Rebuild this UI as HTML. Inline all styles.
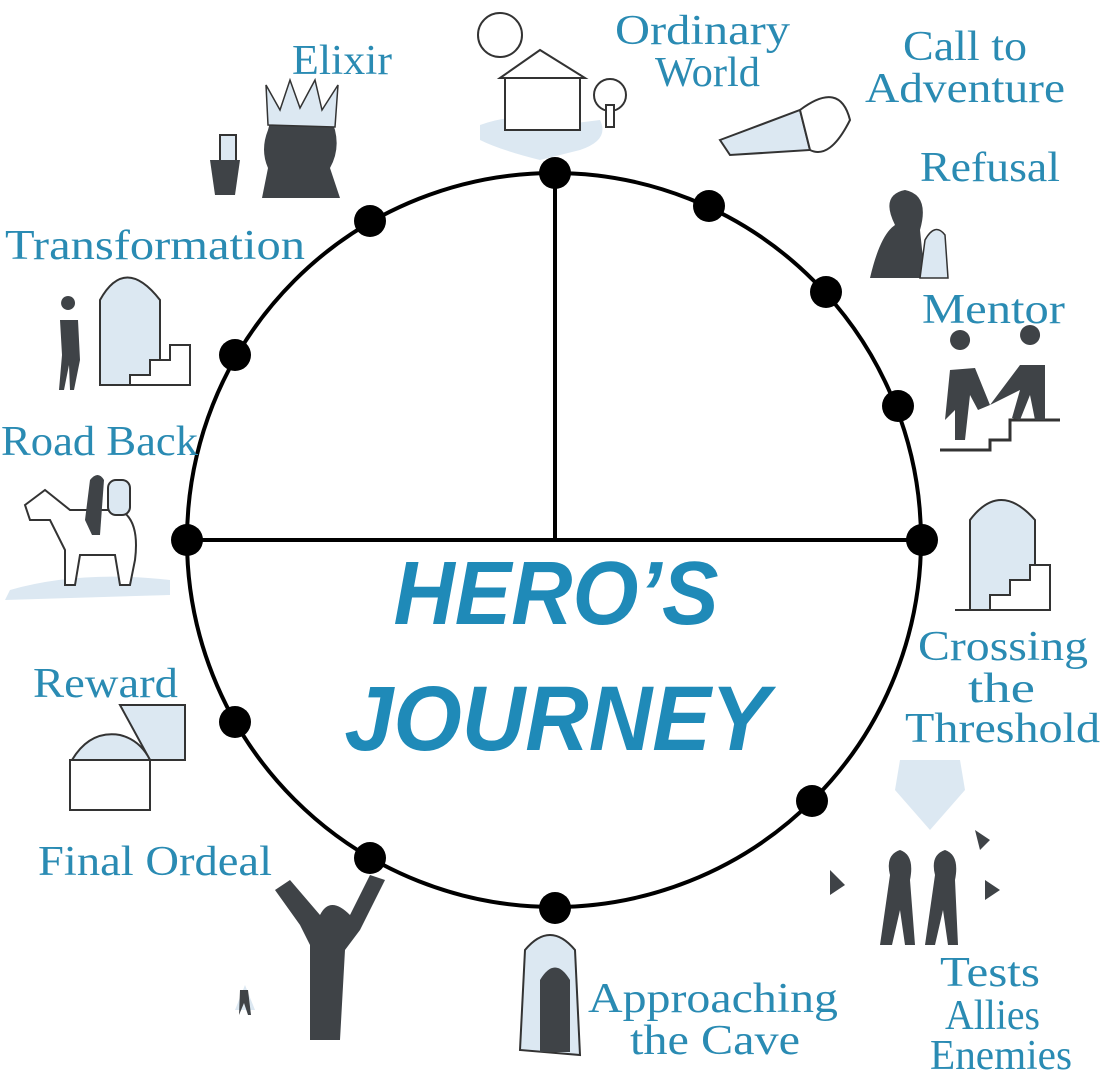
<!DOCTYPE html>
<html><head><style>
html,body{margin:0;padding:0;background:#fff;}
svg{display:block;}
.l{font-family:"Liberation Serif",serif;font-size:42px;fill:#2a8bb3;text-anchor:middle;}
.t{font-family:"Liberation Sans",sans-serif;font-weight:bold;font-style:italic;fill:#1f8ab8;text-anchor:middle;}
.d{fill:#3f4347;}
.lb{fill:#dce8f2;}
</style></head><body>
<svg width="1113" height="1080" viewBox="0 0 1113 1080">
<g>
 <path class="lb" d="M480 125 Q520 110 560 125 L600 120 Q610 140 580 150 L540 160 Q500 150 480 140Z"/>
 <rect x="505" y="75" width="75" height="55" fill="#fff" stroke="#333" stroke-width="2"/>
 <path d="M500 78 L540 50 L585 78Z" fill="#fff" stroke="#333" stroke-width="2"/>
 <circle cx="500" cy="35" r="22" fill="#fff" stroke="#333" stroke-width="2"/>
 <circle cx="610" cy="95" r="16" fill="#fff" stroke="#333" stroke-width="2"/>
 <rect x="606" y="105" width="8" height="22" fill="#fff" stroke="#333" stroke-width="2"/>
 <path d="M720 140 L800 110 L810 150 L730 155Z" class="lb" stroke="#333" stroke-width="2"/>
 <path d="M800 110 Q840 80 850 120 Q830 160 810 150Z" fill="#fff" stroke="#333" stroke-width="2"/>
 <path class="d" d="M870 278 Q880 235 895 225 Q880 195 905 190 Q930 195 920 230 L925 278Z"/>
 <path class="lb" d="M920 278 L925 240 Q935 222 945 235 L948 278Z" stroke="#333" stroke-width="1.5"/>
 <path d="M940 450 L990 450 L990 440 L1010 440 L1010 420 L1060 420" fill="none" stroke="#333" stroke-width="3"/>
 <path class="d" d="M960 350 a10 10 0 1 1 0.1 0Z M950 370 L975 368 L990 405 L978 410 L970 395 L965 440 L955 440 L955 410 L945 420Z"/>
 <path class="d" d="M1030 345 a10 10 0 1 1 0.1 0Z M1020 365 L1045 365 L1045 420 L1035 420 L1030 395 L1020 420 L1012 418 L1020 390 L990 405Z"/>
 <path d="M970 610 L970 520 Q1000 480 1035 520 L1035 610Z" class="lb" stroke="#333" stroke-width="2"/>
 <path d="M955 610 L1050 610 L1050 565 L1030 565 L1030 580 L1010 580 L1010 595 L990 595 L990 610" fill="#fff" stroke="#333" stroke-width="2"/>
 <path class="lb" d="M900 760 L960 760 L965 790 L930 830 L895 790Z"/>
 <path class="d" d="M880 945 L890 875 Q885 855 900 850 Q915 855 910 880 L915 945 L905 945 L900 910 L892 945Z"/>
 <path class="d" d="M925 945 L935 875 Q930 855 945 850 Q960 855 955 880 L958 945 L948 945 L943 910 L935 945Z"/>
 <path class="d" d="M830 870 l15 15 l-15 10z M975 830 l15 10 l-10 10z M985 880 l15 10 l-15 10z"/>
 <path d="M520 1050 L525 950 Q550 920 575 950 L580 1055Z" class="lb" stroke="#333" stroke-width="2"/>
 <path class="d" d="M540 1052 L540 980 Q555 955 570 980 L570 1052Z"/>
 <path class="d" d="M275 890 L300 925 L310 945 L310 1040 L340 1040 L345 950 L360 930 L385 880 L370 875 L350 915 Q330 895 320 915 L290 880Z"/>
 <path class="lb" d="M235 1010 L245 985 L255 1010Z"/>
 <path class="d" d="M240 990 l8 0 l3 25 l-3 0 l-4 -12 l-5 12z"/>
 <path d="M70 760 L150 760 L150 810 L70 810Z" fill="#fff" stroke="#333" stroke-width="2"/>
 <path d="M120 705 L185 705 L185 760 L150 760Z" class="lb" stroke="#333" stroke-width="2"/>
 <path d="M72 760 Q90 730 120 735 Q140 740 150 760Z" class="lb" stroke="#333" stroke-width="2"/>
 <path class="lb" d="M10 590 Q80 570 170 580 L170 595 L5 600Z"/>
 <path d="M25 505 L45 490 L70 510 L120 510 Q140 520 135 560 L130 585 L120 585 L115 555 L80 555 L75 585 L65 585 L65 550 L50 520 L30 520Z" fill="#fff" stroke="#333" stroke-width="2"/>
 <path class="d" d="M85 520 L90 480 Q98 470 104 480 L100 535 L92 535Z"/>
 <rect x="108" y="480" width="22" height="35" rx="8" class="lb" stroke="#333" stroke-width="2"/>
 <path d="M100 385 L100 300 Q125 255 160 300 L160 385Z" class="lb" stroke="#333" stroke-width="2"/>
 <path d="M100 385 L190 385 L190 345 L170 345 L170 360 L150 360 L150 375 L130 375 L130 385" fill="#fff" stroke="#333" stroke-width="2"/>
 <path class="d" d="M68 310 a7 7 0 1 1 0.1 0Z M60 320 L78 320 L80 360 L74 390 L70 390 L69 365 L64 390 L59 390 L62 355Z"/>
 <path class="d" d="M262 198 L268 168 Q260 150 268 130 L272 115 Q300 100 330 115 L335 130 Q340 150 330 168 L340 198Z"/>
 <path d="M268 125 L266 85 L280 110 L290 80 L300 108 L315 80 L322 110 L338 85 L335 127Z" fill="#dce8f2" stroke="#333" stroke-width="1.5"/>
 <rect x="220" y="135" width="16" height="30" class="lb" stroke="#333" stroke-width="2"/>
 <path class="d" d="M210 160 L240 160 L235 195 L215 195Z"/>
</g>
<circle cx="554" cy="540" r="367" fill="none" stroke="#000" stroke-width="4"/>
<line x1="187" y1="540" x2="922" y2="540" stroke="#000" stroke-width="4"/>
<line x1="555" y1="173" x2="555" y2="540" stroke="#000" stroke-width="4"/>
<g fill="#000">
<circle cx="555" cy="173" r="16"/><circle cx="709" cy="206" r="16"/><circle cx="826" cy="292" r="16"/>
<circle cx="898" cy="406" r="16"/><circle cx="922" cy="540" r="16"/><circle cx="812" cy="801" r="16"/>
<circle cx="555" cy="908" r="16"/><circle cx="370" cy="858" r="16"/><circle cx="235" cy="722" r="16"/>
<circle cx="187" cy="540" r="16"/><circle cx="235" cy="355" r="16"/><circle cx="370" cy="221" r="16"/>
</g>
<g class="l" style="font-family:'Liberation Serif',serif;font-size:42px;fill:#2a8bb3" text-anchor="start" >
<text x="615" y="44" textLength="175" lengthAdjust="spacingAndGlyphs" style="text-anchor:start">Ordinary</text>
<text x="655" y="86" textLength="105" lengthAdjust="spacingAndGlyphs" style="text-anchor:start">World</text>
<text x="903" y="60" textLength="124" lengthAdjust="spacingAndGlyphs" style="text-anchor:start">Call to</text>
<text x="865" y="102" textLength="200" lengthAdjust="spacingAndGlyphs" style="text-anchor:start">Adventure</text>
<text x="920" y="181" textLength="140" lengthAdjust="spacingAndGlyphs" style="text-anchor:start">Refusal</text>
<text x="922" y="323" textLength="143" lengthAdjust="spacingAndGlyphs" style="text-anchor:start">Mentor</text>
<text x="918" y="660" textLength="170" lengthAdjust="spacingAndGlyphs" style="text-anchor:start">Crossing</text>
<text x="968" y="702" textLength="67" lengthAdjust="spacingAndGlyphs" style="text-anchor:start">the</text>
<text x="905" y="742" textLength="195" lengthAdjust="spacingAndGlyphs" style="text-anchor:start">Threshold</text>
<text x="940" y="986" textLength="100" lengthAdjust="spacingAndGlyphs" style="text-anchor:start">Tests</text>
<text x="945" y="1029" textLength="95" lengthAdjust="spacingAndGlyphs" style="text-anchor:start">Allies</text>
<text x="930" y="1069" textLength="142" lengthAdjust="spacingAndGlyphs" style="text-anchor:start">Enemies</text>
<text x="588" y="1012" textLength="250" lengthAdjust="spacingAndGlyphs" style="text-anchor:start">Approaching</text>
<text x="630" y="1054" textLength="170" lengthAdjust="spacingAndGlyphs" style="text-anchor:start">the Cave</text>
<text x="38" y="875" textLength="234" lengthAdjust="spacingAndGlyphs" style="text-anchor:start">Final Ordeal</text>
<text x="33" y="697" textLength="145" lengthAdjust="spacingAndGlyphs" style="text-anchor:start">Reward</text>
<text x="1" y="455" textLength="197" lengthAdjust="spacingAndGlyphs" style="text-anchor:start">Road Back</text>
<text x="5" y="259" textLength="300" lengthAdjust="spacingAndGlyphs" style="text-anchor:start">Transformation</text>
<text x="292" y="74" textLength="100" lengthAdjust="spacingAndGlyphs" style="text-anchor:start">Elixir</text>
</g>
<text class="t" x="556" y="624" font-size="90" textLength="325" lengthAdjust="spacingAndGlyphs">HERO’S</text>
<text class="t" x="557" y="750" font-size="92" textLength="425" lengthAdjust="spacingAndGlyphs">JOURNEY</text>
</svg>
</body></html>
